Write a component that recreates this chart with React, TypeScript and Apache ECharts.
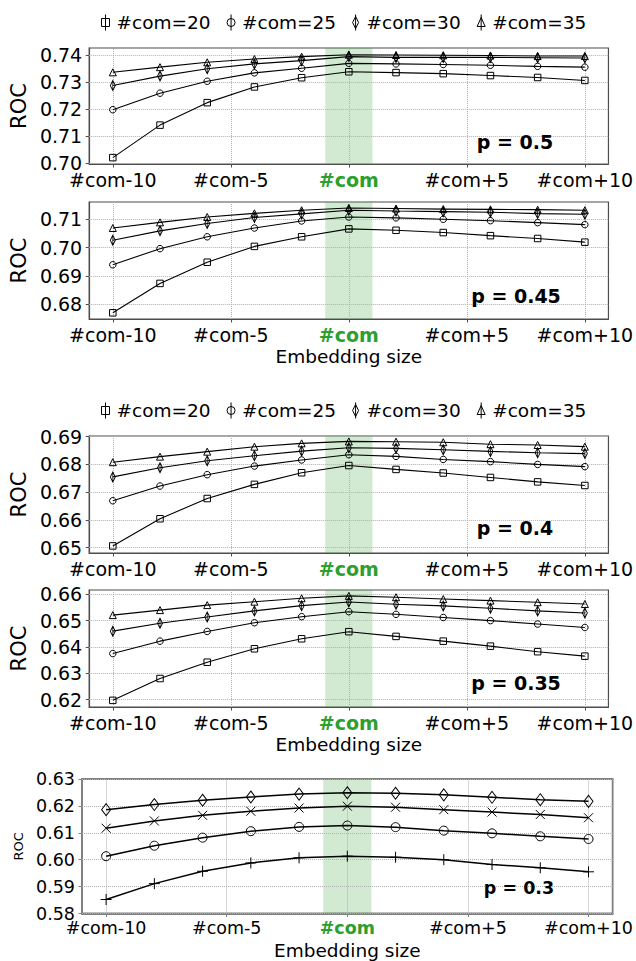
import React, { useEffect, useRef } from "react";
import * as echarts from "echarts";

// ---------- data ----------
const xSizes = [-10, -8, -6, -4, -2, 0, 2, 4, 6, 8, 10];
const xTickValues = [-10, -5, 0, 5, 10];
const legendNames = ["#com=20", "#com=25", "#com=30", "#com=35"];
const p03Names = ["p=0.3 A", "p=0.3 B", "p=0.3 C", "p=0.3 D"];
const pLabels = ["p = 0.5", "p = 0.45", "p = 0.4", "p = 0.35", "p = 0.3"];

const p50_com20 = [0.7021, 0.7141, 0.7224, 0.7282, 0.7316, 0.7338, 0.7335, 0.7331, 0.7324, 0.7317, 0.7306];
const p50_com25 = [0.7198, 0.7259, 0.7303, 0.7334, 0.7351, 0.7369, 0.7367, 0.7365, 0.7362, 0.7358, 0.7355];
const p50_com30 = [0.7287, 0.7322, 0.7349, 0.7367, 0.7379, 0.7394, 0.7391, 0.7391, 0.7391, 0.739, 0.7389];
const p50_com35 = [0.7336, 0.7355, 0.7373, 0.7385, 0.7394, 0.7401, 0.74, 0.7399, 0.7398, 0.7396, 0.7396];

const p45_com20 = [0.6769, 0.6873, 0.6948, 0.7004, 0.7038, 0.7066, 0.7061, 0.7053, 0.7042, 0.7032, 0.7019];
const p45_com25 = [0.6939, 0.6996, 0.7038, 0.7069, 0.7094, 0.7108, 0.7105, 0.71, 0.7095, 0.7088, 0.7081];
const p45_com30 = [0.7026, 0.7059, 0.7085, 0.7106, 0.7119, 0.7132, 0.7129, 0.7127, 0.7125, 0.712, 0.7118];
const p45_com35 = [0.7069, 0.7089, 0.7108, 0.7121, 0.7132, 0.714, 0.7138, 0.7136, 0.7135, 0.7134, 0.7132];

const p40_com20 = [0.6506, 0.6604, 0.6677, 0.6728, 0.677, 0.6796, 0.6782, 0.6769, 0.6753, 0.6737, 0.6724];
const p40_com25 = [0.6669, 0.6722, 0.6763, 0.6794, 0.6816, 0.6835, 0.6829, 0.6818, 0.681, 0.68, 0.6792];
const p40_com30 = [0.6755, 0.6788, 0.6813, 0.6831, 0.6848, 0.686, 0.6858, 0.6853, 0.6847, 0.6842, 0.6839];
const p40_com35 = [0.6808, 0.6828, 0.6846, 0.6864, 0.6876, 0.6883, 0.6882, 0.688, 0.6873, 0.687, 0.6864];

const p35_com20 = [0.6197, 0.628, 0.6342, 0.6393, 0.6431, 0.6458, 0.644, 0.6422, 0.6403, 0.6382, 0.6365];
const p35_com25 = [0.6375, 0.6422, 0.6459, 0.6492, 0.6515, 0.6534, 0.6524, 0.6512, 0.65, 0.6487, 0.6474];
const p35_com30 = [0.646, 0.649, 0.6514, 0.6537, 0.6557, 0.6571, 0.6562, 0.6556, 0.6547, 0.6537, 0.6529];
const p35_com35 = [0.6521, 0.654, 0.6559, 0.6572, 0.6585, 0.6594, 0.6589, 0.6582, 0.6576, 0.657, 0.6563];

const p30_diamond = [0.6186, 0.6205, 0.6221, 0.6233, 0.6244, 0.6249, 0.6247, 0.6241, 0.6232, 0.6223, 0.6217];
const p30_cross = [0.6117, 0.6144, 0.6165, 0.618, 0.6192, 0.6199, 0.6195, 0.6186, 0.6177, 0.6168, 0.6156];
const p30_circle = [0.6013, 0.6052, 0.6082, 0.6106, 0.6122, 0.6127, 0.6121, 0.6108, 0.6098, 0.6087, 0.6077];
const p30_plus = [0.5852, 0.5911, 0.5957, 0.5988, 0.6007, 0.6013, 0.6009, 0.6, 0.5982, 0.597, 0.5955];

const yTicks1 = [0.7, 0.71, 0.72, 0.73, 0.74];
const yTicks2 = [0.68, 0.69, 0.7, 0.71];
const yTicks3 = [0.65, 0.66, 0.67, 0.68, 0.69];
const yTicks4 = [0.62, 0.63, 0.64, 0.65, 0.66];
const yTicks5 = [0.58, 0.59, 0.6, 0.61, 0.62, 0.63];

const yRange1 = [0.69974, 0.74258];
const yRange2 = [0.67471, 0.71611];
const yRange3 = [0.64805, 0.69025];
const yRange4 = [0.61718, 0.66164];
const yRange5 = [0.58, 0.63];
const xRange = [-11, 11];
const bandRange = [-1, 1];

// ---------- styling ----------
const FONT = '"DejaVu Sans", "Liberation Sans", sans-serif';
const GREEN = "#2ca02c";

const legendIcons = [
  "path://M1,4 L9,4 L9,12 L1,12 Z M5,0 L5,16",
  "path://M5,4 A4,4 0 1 1 5,12 A4,4 0 1 1 5,4 Z M5,0 L5,16",
  "path://M3,2 L6,8 L3,14 L0,8 Z M3,0 L3,16",
  "path://M4,3 L8,12 L0,12 Z M4,0 L4,16",
];

const plotSymbols: any[] = [
  { symbol: "rect", size: 6.5 },
  { symbol: "circle", size: 6.5 },
  { symbol: "path://M3,0 L6,7 L3,14 L0,7 Z M3,0 L3,14", size: [5, 10] },
  { symbol: "triangle", size: 7 },
];

const p5Symbols: any[] = [
  { symbol: "diamond", size: [9, 12] },
  { symbol: "path://M0,0 L10,10 M10,0 L0,10", size: 9 },
  { symbol: "circle", size: 9 },
  { symbol: "path://M5,0 L5,10 M0,5 L10,5", size: 11 },
];

type Panel = {
  top: number;
  height: number;
  left: number;
  width: number;
  yRange: number[];
  yTicks: number[];
  series: number[][];
  names: string[];
  symbols: any[];
  xName: boolean;
  small: boolean;
  pLabel: string;
  pX: number;
  pY: number;
};

const panels: Panel[] = [
  { top: 48, height: 116, left: 86, width: 524, yRange: yRange1, yTicks: yTicks1, series: [p50_com20, p50_com25, p50_com30, p50_com35], names: legendNames, symbols: plotSymbols, xName: false, small: false, pLabel: pLabels[0], pX: 515, pY: 142 },
  { top: 202, height: 117, left: 86, width: 524, yRange: yRange2, yTicks: yTicks2, series: [p45_com20, p45_com25, p45_com30, p45_com35], names: legendNames, symbols: plotSymbols, xName: true, small: false, pLabel: pLabels[1], pX: 516, pY: 296 },
  { top: 436, height: 117, left: 86, width: 524, yRange: yRange3, yTicks: yTicks3, series: [p40_com20, p40_com25, p40_com30, p40_com35], names: legendNames, symbols: plotSymbols, xName: false, small: false, pLabel: pLabels[2], pX: 515, pY: 528 },
  { top: 590, height: 117, left: 86, width: 524, yRange: yRange4, yTicks: yTicks4, series: [p35_com20, p35_com25, p35_com30, p35_com35], names: legendNames, symbols: plotSymbols, xName: true, small: false, pLabel: pLabels[3], pX: 516, pY: 683 },
  { top: 779, height: 134.5, left: 82, width: 533, yRange: yRange5, yTicks: yTicks5, series: [p30_diamond, p30_cross, p30_circle, p30_plus], names: p03Names, symbols: p5Symbols, xName: true, small: true, pLabel: pLabels[4], pX: 519, pY: 888 },
];

function xLabel(v: number) {
  if (v === 0) return "{g|#com}";
  return v < 0 ? "#com" + v : "#com+" + v;
}

function buildOption() {
  const grid: any[] = [];
  const xAxis: any[] = [];
  const yAxis: any[] = [];
  const series: any[] = [];
  const graphic: any[] = [];

  panels.forEach((p, i) => {
    const axisColor = p.small ? "#808080" : "#4d4d4d";
    const axisWidth = p.small ? 1.8 : 1.2;
    const fs = p.small ? 17.5 : 19;
    grid.push({
      left: p.left,
      top: p.top,
      width: p.width,
      height: p.height,
      show: true,
      borderColor: axisColor,
      borderWidth: axisWidth,
      backgroundColor: "transparent",
    });
    xAxis.push({
      type: "value",
      gridIndex: i,
      min: xRange[0],
      max: xRange[1],
      splitLine: { show: false },
      axisLine: { show: true, onZero: false, lineStyle: { color: axisColor, width: axisWidth } },
      axisTick: { show: true, inside: false, length: 3.5, customValues: xTickValues, lineStyle: { color: axisColor, width: 1 } },
      axisLabel: {
        customValues: xTickValues,
        formatter: xLabel,
        fontFamily: FONT,
        fontSize: fs,
        color: "#000",
        margin: p.small ? 5 : 6,
        rich: { g: { color: GREEN, fontWeight: "bold", fontFamily: FONT, fontSize: fs } },
      },
      name: p.xName ? "Embedding size" : "",
      nameLocation: "middle",
      nameGap: p.small ? 27 : 28,
      nameTextStyle: { fontFamily: FONT, fontSize: 18.5, color: "#000" },
    });
    yAxis.push({
      type: "value",
      gridIndex: i,
      min: p.yRange[0],
      max: p.yRange[1],
      splitLine: { show: false },
      axisLine: { show: true, onZero: false, lineStyle: { color: axisColor, width: axisWidth } },
      axisTick: { show: true, inside: false, length: 3.5, customValues: p.yTicks, lineStyle: { color: axisColor, width: 1 } },
      axisLabel: {
        customValues: p.yTicks,
        formatter: (v: number) => v.toFixed(2),
        fontFamily: FONT,
        fontSize: fs,
        color: "#000",
        margin: 7,
      },
      name: "ROC",
      nameLocation: "middle",
      nameGap: p.small ? 52 : 53,
      nameRotate: 90,
      nameTextStyle: { fontFamily: FONT, fontSize: p.small ? 13 : 21, color: "#000" },
    });
    // background: band + dotted grid
    series.push({
      type: "line",
      name: "bg" + i,
      xAxisIndex: i,
      yAxisIndex: i,
      data: [],
      silent: true,
      z: 1,
      markArea: {
        silent: true,
        z: 1,
        itemStyle: { color: "rgba(44,160,44,0.22)" },
        data: [[{ xAxis: bandRange[0] }, { xAxis: bandRange[1] }]],
      },
      markLine: {
        silent: true,
        z: 1.5,
        symbol: ["none", "none"],
        label: { show: false },
        lineStyle: { type: "dotted", color: "#b0b0b0", width: 1 },
        data: [
          ...p.yTicks.map((v) => ({ yAxis: v })),
          ...xTickValues.map((v) => ({ xAxis: v })),
        ],
      },
    });
    p.series.forEach((vals, k) => {
      const sym = p.symbols[k];
      series.push({
        type: "line",
        name: p.names[k],
        xAxisIndex: i,
        yAxisIndex: i,
        z: 3,
        data: xSizes.map((x, j) => [x, vals[j]]),
        symbol: sym.symbol,
        symbolSize: sym.size,
        showAllSymbol: true,
        lineStyle: { color: "#000", width: p.small ? 1.5 : 1.1 },
        itemStyle: { color: "rgba(0,0,0,0)", borderColor: "#000", borderWidth: 1 },
      });
    });
    graphic.push({
      type: "text",
      x: p.pX,
      y: p.pY,
      z: 10,
      style: {
        text: p.pLabel,
        font: `bold ${p.small ? 17.5 : 19}px ${FONT}`,
        fill: "#000",
        align: "center",
        verticalAlign: "middle",
      },
    });
  });

  const legendBase = {
    left: 96,
    orient: "horizontal",
    itemWidth: 12,
    itemHeight: 16,
    itemGap: 16,
    selectedMode: false,
    textStyle: { fontFamily: FONT, fontSize: 18.5, color: "#000" },
    itemStyle: { color: "rgba(0,0,0,0)", borderColor: "#000", borderWidth: 1 },
    data: legendNames.map((n, k) => ({ name: n, icon: legendIcons[k] })),
  };

  return {
    animation: false,
    backgroundColor: "#fff",
    legend: [
      { ...legendBase, top: 8 },
      { ...legendBase, top: 396 },
    ],
    grid,
    xAxis,
    yAxis,
    series,
    graphic,
  };
}

export default function App() {
  const ref = useRef<HTMLDivElement>(null);
  useEffect(() => {
    if (!ref.current) return;
    const chart = echarts.init(ref.current, undefined, { renderer: "svg" });
    chart.setOption(buildOption() as any);
    return () => chart.dispose();
  }, []);
  return (
    <div
      ref={ref}
      style={{ position: "absolute", left: 0, top: 0, width: 636, height: 961, background: "#fff" }}
    />
  );
}
